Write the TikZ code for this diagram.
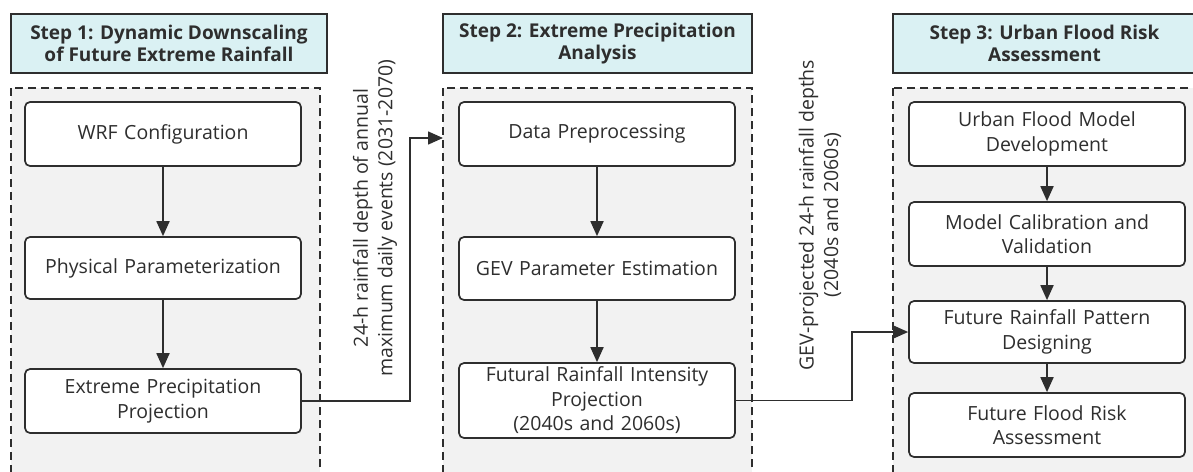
\documentclass[tikz,border=0pt]{standalone}
\usepackage{fontspec}
\setmainfont{Open Sans}
\usetikzlibrary{arrows.meta}
\definecolor{ink}{HTML}{2E2E2E}
\definecolor{hdrfill}{HTML}{DAF1F3}
\definecolor{panelfill}{HTML}{F2F2F2}
\begin{document}
\begin{tikzpicture}[x=1pt,y=-1pt,
  txt/.style={font=\fontsize{19.5}{24.5}\selectfont, text=ink},
  hdr/.style={draw=ink, line width=2.2pt, fill=hdrfill, inner sep=0pt,
    font=\fontsize{19}{22}\selectfont\bfseries, text=ink, align=center},
  panel/.style={draw=ink, line width=1.7pt, fill=panelfill, dash pattern=on 8pt off 5pt},
  stepbox/.style={draw=ink, line width=1.7pt, rounded corners=5pt, fill=white,
    minimum width=276pt, inner sep=0pt, txt, text width=270pt, align=center},
  flow/.style={draw=ink, line width=1.8pt, -{Triangle[length=15pt,width=13pt]}},
  conn/.style={draw=ink, line width=1.5pt, -{Triangle[length=15pt,width=13pt]}},
  lbl/.style={txt, rotate=90, align=center}
]
\useasboundingbox (0,0) rectangle (1193,471);
\clip (0,0) rectangle (1193,471);
% panels
\path[panel] (11,88) rectangle (320,500);
\path[panel] (443,88) rectangle (752,500);
\path[panel] (893,88) rectangle (1220,500);
% headers
\node[hdr, minimum width=316pt, minimum height=59pt] (h1) at (169,43.5) {Step 1: Dynamic Downscaling\\ of Future Extreme Rainfall};
\node[hdr, minimum width=309pt, minimum height=59pt] (h2) at (597.5,43.5) {Step 2: Extreme Precipitation\\ Analysis};
\node[hdr, minimum width=303pt, minimum height=59pt] (h3) at (1044.5,43.5) {Step 3: Urban Flood Risk\\ Assessment};
% column 1
\node[stepbox, minimum height=64pt] (a1) at (163,134) {WRF Configuration};
\node[stepbox, minimum height=62pt] (a2) at (163,268) {Physical Parameterization};
\node[stepbox, minimum height=64pt] (a3) at (163,401) {Extreme Precipitation\\ Projection};
% column 2
\node[stepbox, minimum height=64pt] (b1) at (597,134) {Data Preprocessing};
\node[stepbox, minimum height=63pt] (b2) at (597,268.5) {GEV Parameter Estimation};
\node[stepbox, minimum height=75pt] (b3) at (597,400.5) {Futural Rainfall Intensity\\ Projection\\ (2040s and 2060s)};
% column 3
\node[stepbox, minimum height=64pt] (c1) at (1047,134) {Urban Flood Model\\ Development};
\node[stepbox, minimum height=64pt] (c2) at (1047,234) {Model Calibration and\\ Validation};
\node[stepbox, minimum height=62pt] (c3) at (1047,332) {Future Rainfall Pattern\\ Designing};
\node[stepbox, minimum height=64pt] (c4) at (1047,425) {Future Flood Risk\\ Assessment};
% vertical arrows
\draw[flow] (a1) -- (a2);
\draw[flow] (a2) -- (a3);
\draw[flow] (b1) -- (b2);
\draw[flow] (b2) -- (b3);
\draw[flow] (c1) -- (c2);
\draw[flow] (c2) -- (c3);
\draw[flow] (c3) -- (c4);
% connectors between steps
\coordinate (in2) at (443,138);
\draw[conn] (a3.east) -- (410,401) -- (410,138) -- (in2);
\draw[conn] (b3.east) -- (852,400.5) -- (852,332) -- (c3.west);
% labels
\node[lbl] (l1) at (375,218) {24-h rainfall depth of annual\\ maximum daily events (2031-2070)};
\node[lbl] (l2) at (820,215) {GEV-projected 24-h rainfall depths\\ (2040s and 2060s)};
\end{tikzpicture}
\end{document}
